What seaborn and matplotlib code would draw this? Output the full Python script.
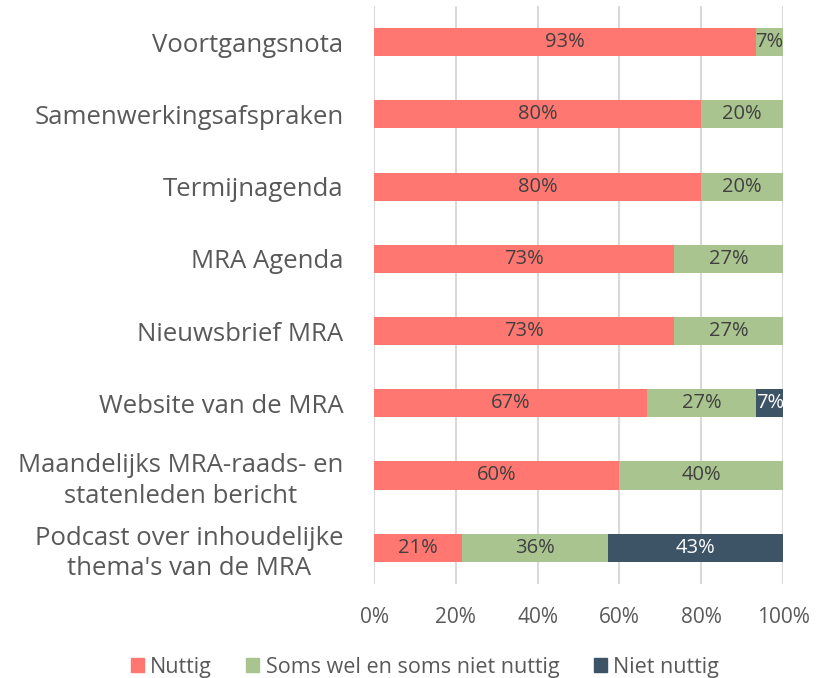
import numpy as np
import pandas as pd
import matplotlib
matplotlib.use("Agg")
import matplotlib.pyplot as plt
import seaborn as sns
from matplotlib.patches import Patch

# survey answers per channel (share of respondents, %)
categories = [
    "Voortgangsnota",
    "Samenwerkingsafspraken",
    "Termijnagenda",
    "MRA Agenda",
    "Nieuwsbrief MRA",
    "Website van de MRA",
    "Maandelijks MRA-raads- en\nstatenleden bericht",
    "Podcast over inhoudelijke\nthema's van de MRA",
]
nuttig = [93.3, 80.0, 80.0, 73.3, 73.3, 66.7, 60.0, 21.4]
soms = [6.7, 20.0, 20.0, 26.7, 26.7, 26.7, 40.0, 35.7]
niet = [0.0, 0.0, 0.0, 0.0, 0.0, 6.7, 0.0, 42.9]
series_names = ["Nuttig", "Soms wel en soms niet nuttig", "Niet nuttig"]
colors = ["#FF7770", "#A9C48E", "#3D5366"]
label_colors = ["#404040", "#404040", "white"]

sns.set_theme(style="white")
plt.rcParams["font.family"] = ["Open Sans", "DejaVu Sans"]

df = pd.DataFrame({"cat": categories, "Nuttig": nuttig,
                   "Soms": soms, "Niet": niet})
cols = ["Nuttig", "Soms", "Niet"]
cum = df[cols].cumsum(axis=1)

fig = plt.figure(figsize=(8.22, 6.78), dpi=100)
ax = fig.add_axes([0.455, 0.139, 0.4976, 0.852])

# draw cumulative layers from back to front
for i in reversed(range(3)):
    sns.barplot(x=cum[cols[i]], y=df["cat"], color=colors[i], width=0.39,
                orient="h", ax=ax, saturation=1, linewidth=0)

for j in range(len(categories)):
    left = 0
    for i, c in enumerate(cols):
        v = df[c].iloc[j]
        if v > 0:
            ax.text(left + v / 2, j, f"{round(v):.0f}%", ha="center",
                    va="center", fontsize=14.5, color=label_colors[i])
        left += v

ax.set_xlim(0, 100)
ax.set_ylim(len(categories) - 0.5, -0.5)
ax.set_xticks(np.arange(0, 101, 20))
ax.set_xticklabels([f"{t}%" for t in range(0, 101, 20)])
ax.xaxis.grid(True, color="#D9D9D9", linewidth=1.5)
ax.set_axisbelow(True)
for s in ax.spines.values():
    s.set_visible(False)
ax.set_xlabel("")
ax.set_ylabel("")
ax.tick_params(axis="x", labelsize=15, colors="#595959", length=0, pad=17)
ax.tick_params(axis="y", labelsize=18.5, colors="#595959", length=0, pad=22)
for lab in ax.get_yticklabels():
    lab.set_multialignment("center")
    lab.set_linespacing(1.3)

handles = [Patch(color=c) for c in colors]
fig.legend(handles, series_names, loc="center", bbox_to_anchor=(0.517, 0.016),
           ncol=3, frameon=False, fontsize=15.5, handlelength=0.6,
           handleheight=0.6, handletextpad=0.3, columnspacing=1.6,
           labelcolor="#595959")

fig.savefig("out.png", dpi=100)
